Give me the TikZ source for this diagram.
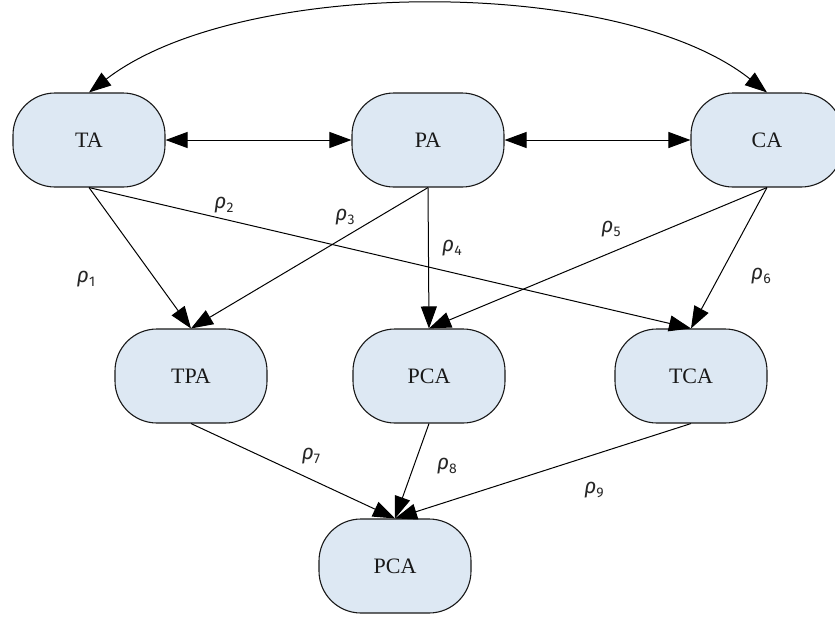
\documentclass[tikz,border=0pt]{standalone}
\usepackage{fontspec}
\setmainfont{Liberation Serif}
\newfontfamily\lblfont{Fira Sans}
\usetikzlibrary{arrows.meta}
\definecolor{boxfill}{RGB}{221,232,243}
\newcommand{\rlab}[1]{{\lblfont\itshape ρ}\raisebox{-0.4ex}{\lblfont\fontsize{14}{14}\selectfont #1}}
\begin{document}
\begin{tikzpicture}[x=1pt,y=-1pt,
  box/.style={draw=black!90, line width=1.1pt, fill=boxfill, rounded corners=42pt,
    minimum width=152pt, minimum height=94pt, inner sep=0pt,
    font=\fontsize{22}{26}\selectfont, text=black!90},
  arr/.style={line width=1pt, -{Triangle[length=22pt,width=16pt]}},
  barr/.style={line width=1pt, {Triangle[length=22pt,width=16pt]}-{Triangle[length=22pt,width=16pt]}},
  lab/.style={font=\fontsize{21}{24}\selectfont, inner sep=0pt, text=black!85}]
\useasboundingbox (0,0) rectangle (835,616);
\node[box] (TA) at (89,140) {TA};
\node[box] (PA) at (428,140) {PA};
\node[box] (CA) at (767,140) {CA};
\node[box] (TPA) at (191,376) {TPA};
\node[box] (PCA) at (429,376) {PCA};
\node[box] (TCA) at (691,376) {TCA};
\node[box] (PCB) at (395,566) {PCA};
\draw[barr] (TA) -- (PA);
\draw[barr] (PA) -- (CA);
\draw[barr] (TA.north) .. controls (240,-24) and (620,-24) .. (CA.north);
\draw[arr] (TA.south) -- (TPA.north);
\draw[arr] (TA.south) -- (TCA.north);
\draw[arr] (PA.south) -- (TPA.north);
\draw[arr] (PA.south) -- (PCA.north);
\draw[arr] (CA.south) -- (PCA.north);
\draw[arr] (CA.south) -- (TCA.north);
\draw[arr] (TPA.south) -- (PCB.north);
\draw[arr] (PCA.south) -- (PCB.north);
\draw[arr] (TCA.south) -- (PCB.north);
\node[lab] (r1) at (86,279) {\rlab{1}};
\node[lab] (r2) at (224,205) {\rlab{2}};
\node[lab] (r3) at (345,217) {\rlab{3}};
\node[lab] (r4) at (452,248) {\rlab{4}};
\node[lab] (r5) at (611,229) {\rlab{5}};
\node[lab] (r6) at (761,276) {\rlab{6}};
\node[lab] (r7) at (311,456) {\rlab{7}};
\node[lab] (r8) at (447,466) {\rlab{8}};
\node[lab] (r9) at (594,490) {\rlab{9}};
\end{tikzpicture}
\end{document}
